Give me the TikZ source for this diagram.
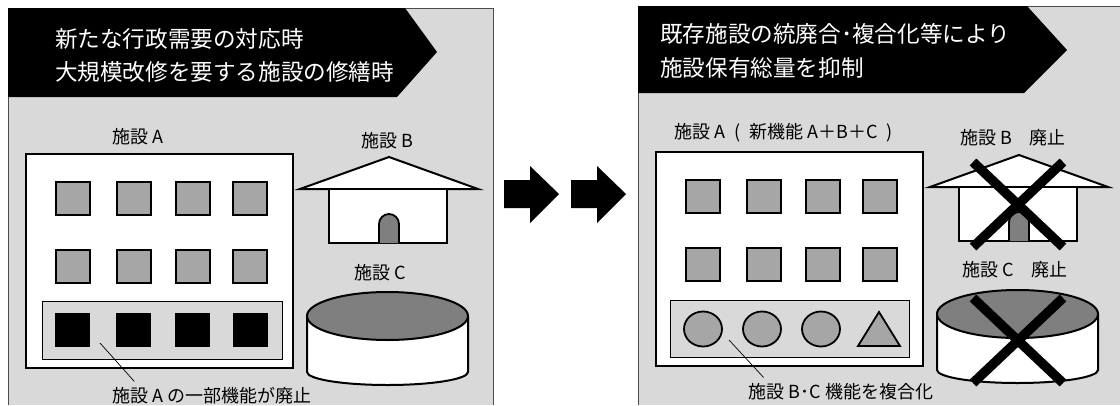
\documentclass[tikz,border=0pt]{standalone}
\usepackage{fontspec}
\setmainfont{Noto Sans CJK JP}
\usetikzlibrary{calc,positioning}

\definecolor{panelgray}{HTML}{D9D9D9}
\definecolor{wingray}{HTML}{A6A6A6}
\definecolor{roofgray}{HTML}{7F7F7F}

% building, house and drum, the same in both panels
\newcommand{\facilityset}{%
  \draw[bldg] (26,154) rectangle (293,368);
  \foreach \wx in {56,117,176,233}
    \foreach \wy in {182,250}
      \draw[window] (\wx,\wy) rectangle ++(34,33);
  \draw[shell] (300,189) -- (389,157) -- (478,189) -- cycle;
  \draw[shell] (329,189) rectangle (447,243);
  \draw[door] (379,243) -- (379,224) arc[start angle=180, end angle=0, radius=10pt] -- (399,243);
  \draw[shell] (307,316) -- (307,372)
    arc[start angle=180, end angle=360, x radius=80.5pt, y radius=13pt] -- (468,316);
  \draw[drumtop] (387.5,316) ellipse[x radius=80.5pt, y radius=24pt];
}

\begin{document}
\begin{tikzpicture}[
  x=1pt, y=-1pt,
  font=\fontsize{18}{22}\selectfont,
  panel/.style={fill=panelgray},
  rim/.style={draw=black!70, line width=0.8pt},
  banner/.style={fill=black},
  headline/.style={text=white, align=left, anchor=west, inner sep=0pt},
  bldg/.style={draw, line width=2.4pt, fill=white},
  shell/.style={draw, line width=2pt, fill=white},
  window/.style={draw, line width=1.8pt, fill=wingray},
  door/.style={draw, line width=1.8pt, fill=roofgray},
  drumtop/.style={draw, line width=2pt, fill=roofgray},
  tray/.style={draw, line width=0.8pt, fill=panelgray},
  lost/.style={fill=black},
  merged/.style={draw, line width=1.8pt, fill=wingray},
  cross/.style={line width=9.5pt},
  tag/.style={inner sep=1pt},
  leader/.style={line width=0.7pt}
]
\useasboundingbox (0,0) rectangle (1120,405);

% left panel
\fill[panel] (8,8) rectangle (493,405);
\draw[rim] (8,405) -- (8,8) -- (493,8) -- (493,405);
\fill[banner] (8,8) -- (405,8) -- (437,52) -- (397,97) -- (8,97) -- cycle;
\node[headline, font=\fontsize{22.6}{33}\selectfont] (headL) at (55,55.5)
  {新たな行政需要の対応時\\大規模改修を要する施設の修繕時};

\facilityset
\node[tag] (bldgA) at (138,137) {施設 A};
\node[tag] (houseB) at (387,141) {施設 B};
\node[tag] (drumC) at (380,273) {施設 C};

\draw[tray] (42,301) rectangle (282,359);
\foreach \sx in {55,116,175,233}
  \fill[lost] (\sx,313) rectangle ++(35,34);

\coordinate (cutA) at (100,343);
\node[tag] (capA) at (212,396) {施設 A の一部機能が廃止};
\draw[leader] (cutA) -- ([xshift=23pt,yshift=5pt]capA.north west);

% two block arrows between the panels
\foreach \ax in {0,67}
  \fill[shift={(\ax,0)}] (504,180) -- (530,180) -- (530,166) -- (559,194)
    -- (530,223) -- (530,208) -- (504,208) -- cycle;

% right panel
\fill[panel] (638,6) rectangle (1120,405);
\draw[rim] (638,405) -- (638,6) -- (1120,6);
\fill[banner] (638,6) -- (1027,6) -- (1067,50) -- (1024,93) -- (638,93) -- cycle;
\node[headline, font=\fontsize{22.6}{34}\selectfont] (headR) at (660,51)
  {既存施設の統廃合･複合化等により\\施設保有総量を抑制};

\begin{scope}[shift={(630,-2)}]
  \facilityset
\end{scope}
\node[tag, anchor=west] (bldgN) at (673,133)
  {施設 A\hspace{0.5em}(\hspace{0.5em}新機能 A＋B＋C\hspace{0.5em})};
\node[tag] (houseX) at (1013,138) {施設 B　廃止};
\node[tag] (drumX) at (1015,270) {施設 C　廃止};

\draw[tray] (670,300) rectangle (909,357);
\foreach \cx in {703,762,821}
  \draw[merged] (\cx,329) ellipse[x radius=19pt, y radius=17.5pt];
\draw[merged] (858,346) -- (879,312) -- (900,346) -- cycle;

\coordinate (cutN) at (729,340);
\node[tag] (capN) at (841,392) {施設 B･C 機能を複合化};
\draw[leader] (cutN) -- ([xshift=16pt,yshift=5pt]capN.north west);

% crossed-out house and drum
\draw[cross] (973,162) -- (1063,247) (1063,162) -- (973,247);
\draw[cross] (973,298) -- (1063,383) (1063,298) -- (973,383);
\end{tikzpicture}
\end{document}
